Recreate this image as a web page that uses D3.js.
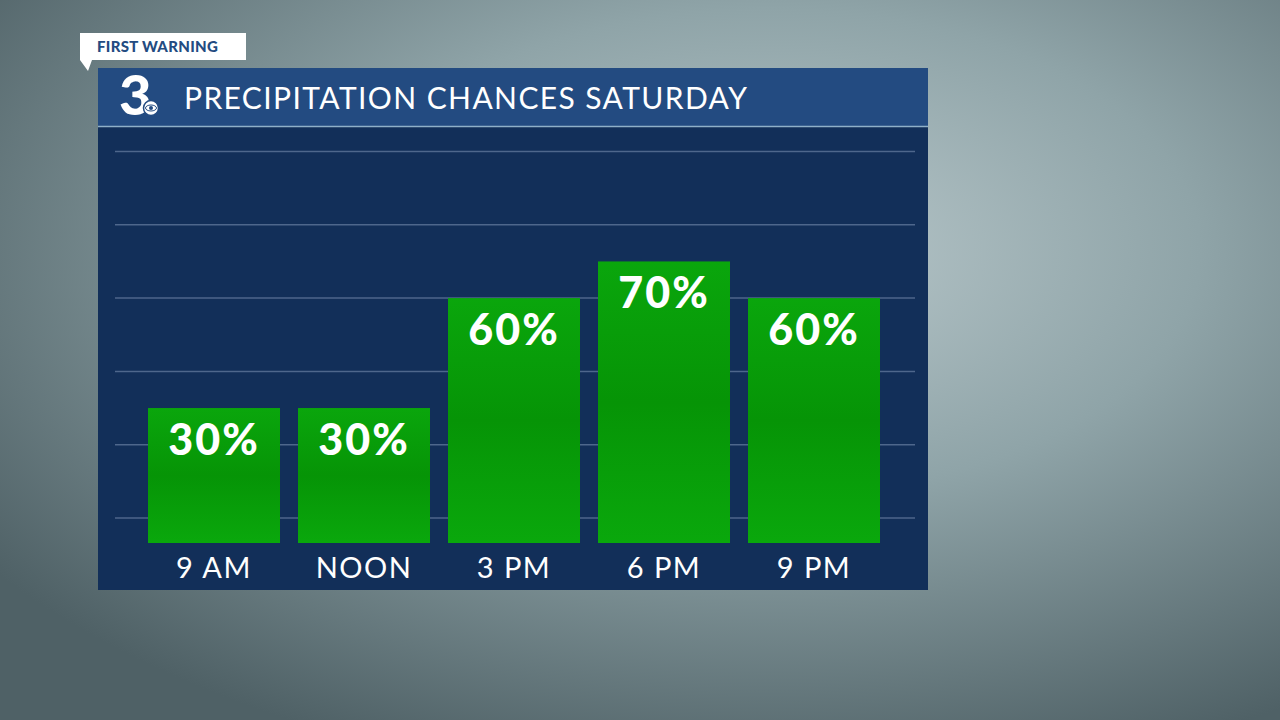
<!DOCTYPE html>
<html><head><meta charset="utf-8">
<script src="https://cdn.jsdelivr.net/npm/d3@7"></script>
<style>body{margin:0;overflow:hidden}svg{display:block}</style>
</head><body>
<script>
var categories = ["9 AM", "NOON", "3 PM", "6 PM", "9 PM"];
var chances = [30, 30, 60, 70, 60];
var gridTicks = [0, 20, 40, 60, 80, 100];

var W = 1280, H = 720;
var svg = d3.select("body").append("svg").attr("width", W).attr("height", H);
var defs = svg.append("defs");

// background
var bg = defs.append("radialGradient").attr("id", "bg").attr("cx", "60%").attr("cy", "35%").attr("r", "75%");
bg.append("stop").attr("offset", "0%").attr("stop-color", "#b9c8cb");
bg.append("stop").attr("offset", "45%").attr("stop-color", "#8fa4a8");
bg.append("stop").attr("offset", "100%").attr("stop-color", "#4f6166");
svg.append("rect").attr("width", W).attr("height", H).attr("fill", "url(#bg)");

var green = defs.append("linearGradient").attr("id", "green").attr("x1", 0).attr("x2", 0).attr("y1", 0).attr("y2", 1);
green.append("stop").attr("offset", "0%").attr("stop-color", "#0aa60c");
green.append("stop").attr("offset", "50%").attr("stop-color", "#069406");
green.append("stop").attr("offset", "100%").attr("stop-color", "#0aa80c");

// panel
svg.append("rect").attr("x", 98).attr("y", 68).attr("width", 830).attr("height", 522).attr("fill", "#122f59");
svg.append("rect").attr("x", 98).attr("y", 68).attr("width", 830).attr("height", 58).attr("fill", "#234b81");
svg.append("line").attr("x1", 98).attr("x2", 928).attr("y1", 126.5).attr("y2", 126.5)
  .attr("stroke", "#8fb0c8").attr("stroke-width", 1.5);

// logo
svg.append("text").attr("x", 119).attr("y", 115).attr("fill", "#fff")
  .style("font-family", "Lato").style("font-weight", 900).style("font-size", "56px").text("3");
svg.append("circle").attr("cx", 151).attr("cy", 108).attr("r", 7.5).attr("fill", "#fff").attr("stroke", "#234b81").attr("stroke-width", 1.5);
svg.append("ellipse").attr("cx", 151).attr("cy", 108).attr("rx", 5.5).attr("ry", 3).attr("fill", "none").attr("stroke", "#234b81").attr("stroke-width", 1);
svg.append("circle").attr("cx", 151).attr("cy", 108).attr("r", 2).attr("fill", "#234b81");

svg.append("text").attr("x", 184).attr("y", 109).attr("fill", "#fff")
  .style("font-family", "Lato").style("font-size", "30px").style("letter-spacing", "1.4px")
  .text("PRECIPITATION CHANCES SATURDAY");

// first warning tag
svg.append("path").attr("d", "M80,33H246V60H92L88,71L80,60Z").attr("fill", "#fff");
svg.append("text").attr("x", 97).attr("y", 52).attr("fill", "#234b81")
  .style("font-family", "Lato").style("font-weight", 900).style("font-size", "15px").style("letter-spacing", "0.3px").text("FIRST WARNING");

// scales
var x = d3.scaleBand().domain(categories).range([139, 889]).paddingInner(0.12).paddingOuter(0.06);
var y = d3.scaleLinear().domain([0, 100]).range([518, 151.5]);
var barBottom = y(0) + 25;

svg.append("g").selectAll("line").data(gridTicks).join("line")
  .attr("x1", 115).attr("x2", 915)
  .attr("y1", function(d) { return y(d); }).attr("y2", function(d) { return y(d); })
  .attr("stroke", "#5d7599").attr("stroke-width", 1.5).attr("opacity", 0.8);

svg.append("g").selectAll("rect").data(chances).join("rect")
  .attr("x", function(d, i) { return x(categories[i]); })
  .attr("y", function(d) { return y(d); })
  .attr("width", x.bandwidth())
  .attr("height", function(d) { return barBottom - y(d); })
  .attr("fill", "url(#green)");

svg.append("g").selectAll("text").data(chances).join("text")
  .attr("x", function(d, i) { return x(categories[i]) + x.bandwidth() / 2; })
  .attr("y", function(d) { return y(d) + 47; })
  .attr("text-anchor", "middle").attr("fill", "#fff")
  .style("font-family", "Lato").style("font-weight", 900).style("font-size", "43px").style("letter-spacing", "2px")
  .text(function(d) { return d + "%"; });

svg.append("g").selectAll("text").data(categories).join("text")
  .attr("x", function(d) { return x(d) + x.bandwidth() / 2; })
  .attr("y", 578)
  .attr("text-anchor", "middle").attr("fill", "#fff")
  .style("font-family", "Lato").style("font-size", "29px").style("letter-spacing", "1.5px")
  .text(function(d) { return d; });
</script>
</body></html>
